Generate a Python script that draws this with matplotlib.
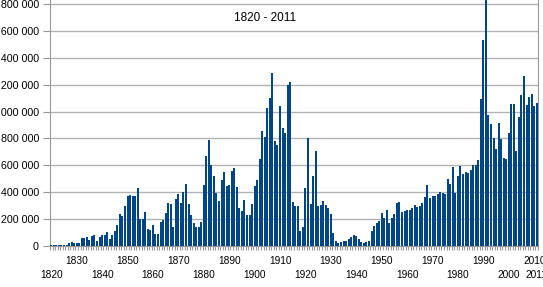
import numpy as np
import matplotlib.pyplot as plt

years = list(range(1820, 2012))
immigrants = [
    8385, 9127, 6911, 6354, 7912, 10199, 10837, 18875, 27382, 22520,
    23322, 22633, 60482, 58640, 65365, 45374, 76242, 79340, 38914, 68069,
    84066, 80289, 104565, 52496, 78615, 114371, 154416, 234968, 226527, 297024,
    369980, 379466, 371603, 368645, 427833, 200877, 200436, 251306, 123126, 121282,
    153640, 91918, 91985, 176282, 193418, 248120, 318568, 315722, 138840, 352768,
    387203, 321350, 404806, 459803, 313339, 227498, 169986, 141857, 138469, 177826,
    457257, 669431, 788992, 603322, 518592, 395346, 334203, 490109, 546889, 444427,
    455302, 560319, 579663, 439730, 285631, 258536, 343267, 230832, 229299, 311715,
    448572, 487918, 648743, 857046, 812870, 1026499, 1100735, 1285349, 782870, 751786,
    1041570, 878587, 838172, 1197892, 1218480, 326700, 298826, 295403, 110618, 141132,
    430001, 805228, 309556, 522919, 706896, 294314, 304488, 335175, 307255, 279678,
    241700, 97139, 35576, 23068, 29470, 34956, 36329, 50244, 67895, 82998,
    70756, 51776, 28781, 23725, 28551, 38119, 108721, 147292, 170570, 188317,
    249187, 205717, 265520, 170434, 208177, 237790, 321625, 326867, 253265, 260686,
    265398, 271344, 283763, 306260, 292248, 296697, 323040, 361972, 454448, 358579,
    373326, 370478, 384685, 398515, 393919, 385378, 499093, 458755, 589810, 394244,
    524295, 595014, 533624, 550052, 541811, 568149, 600027, 599889, 641346, 1090172,
    1535872, 1826595, 973445, 903916, 803993, 720177, 915560, 797847, 653206, 644787,
    841002, 1058902, 1059356, 703542, 957883, 1122257, 1266129, 1052415, 1107126, 1130818,
    1042625, 1062040,
]
upper_labels = [1830, 1850, 1870, 1890, 1910, 1930, 1950, 1970, 1990, 2010]
lower_labels = [1820, 1840, 1860, 1880, 1900, 1920, 1940, 1960, 1980, 2000, 2011]
y_ticks = list(range(0, 1800001, 200000))
title = "1820 - 2011"

plt.rcParams['font.family'] = ['Liberation Sans', 'DejaVu Sans']

fig = plt.figure(figsize=(5.43, 2.87), dpi=100)
ax = fig.add_axes([50/543, 41/287, 488/543, 246/287])

ax.bar(years, immigrants, width=0.8, color='#004586', zorder=3)

ax.set_xlim(1819.5, 2011.5)
ax.set_ylim(0, 1830000)

ax.set_yticks(y_ticks)
ax.set_yticklabels([f"{v:,}".replace(",", " ") for v in y_ticks], fontsize=7.7)
ax.yaxis.grid(True, color='#b3b3b3', linewidth=1, zorder=0)
ax.tick_params(axis='y', length=5, color='#999999', pad=3)

# upper row of year labels on the main axis
ax.set_xticks(upper_labels)
ax.set_xticklabels([str(y) for y in upper_labels], fontsize=7.3)
ax.tick_params(axis='x', which='major', length=0, pad=7.5)
ax.set_xticks(np.arange(1819.5, 2012, 1), minor=True)
ax.tick_params(axis='x', which='minor', length=3, color='#999999', width=0.8)

# lower row on a second axis
sec = ax.secondary_xaxis('bottom')
sec.set_xticks(lower_labels)
sec.set_xticklabels([str(y) for y in lower_labels], fontsize=7.3)
sec.tick_params(axis='x', length=0, pad=17)
sec.spines['bottom'].set_visible(False)

for s in ['left', 'bottom', 'right']:
    ax.spines[s].set_color('#999999')
ax.spines['top'].set_visible(False)

ax.text(0.44, 0.925, title, transform=ax.transAxes, ha='center', va='center', fontsize=8.5)

fig.savefig('out.png', dpi=100)
